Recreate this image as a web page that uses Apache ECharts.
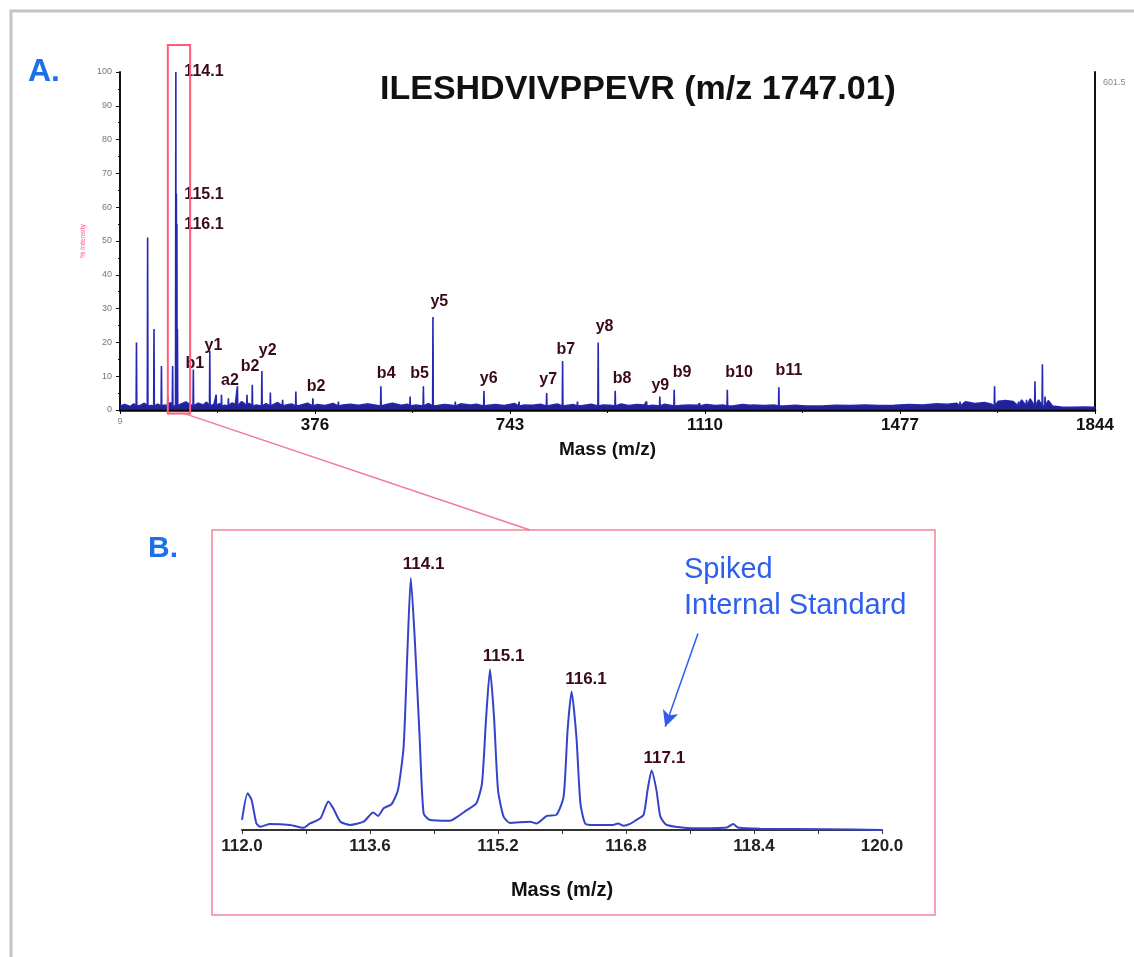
<!DOCTYPE html>
<html>
<head>
<meta charset="utf-8">
<script src="https://cdn.jsdelivr.net/npm/echarts@6/dist/echarts.min.js"></script>
<style>
html, body { margin: 0; padding: 0; background: #fff; }
#main { width: 1134px; height: 957px; }
</style>
</head>
<body>
<div id="main"></div>
<script>
// ---- panel A: MS/MS spectrum of ILESHDVIVPPEVR ----
const AXIS_START = 9 // instrument axis starts at m/z 9, ticks every 367
const peakMz  = [40, 61, 73, 87, 99, 108, 114.1, 115.1, 116.1, 117.1, 147, 178, 190, 200, 213, 230, 248, 258, 276, 292, 315, 340, 372, 420, 500, 555, 580, 598, 640, 694, 760, 812, 842, 870, 909, 941, 1000, 1025, 1052, 1100, 1152, 1200, 1249, 1300, 1590, 1655, 1700, 1715, 1731, 1745, 1750]
const peakInt = [20, 51, 24, 13, 4, 13, 100, 64, 55, 24, 12, 17.5, 4.5, 4.5, 3.5, 7, 4.5, 7.5, 11.5, 5.2, 3, 5.5, 3.5, 2.5, 7, 4, 7, 27.5, 2.5, 5.7, 2.5, 5, 14.5, 2.5, 20, 5.7, 2.5, 4, 6, 2, 6, 1.5, 6.7, 1.5, 2.5, 7, 2.5, 3, 8.5, 13.5, 4]
// noisy baseline [m/z, %]
const baselineNoise = [
  [9, 1.2], [18, 1.6], [28, 1.0], [35, 1.8], [48, 1.4], [55, 2.0], [68, 1.3], [80, 1.7], [93, 1.5], [104, 2.2],
  [111, 1.4], [124, 1.8], [133, 2.4], [141, 1.6], [156, 2.0], [166, 1.5], [172, 2.3], [186, 1.7], [196, 1.9], [206, 1.4],
  [220, 2.1], [226, 1.6], [238, 2.5], [244, 1.8], [252, 2.0], [266, 1.5], [284, 1.9], [298, 1.6], [306, 2.2], [322, 1.5],
  [332, 1.8], [348, 1.4], [362, 2.0], [380, 1.6], [395, 1.3], [410, 1.9], [428, 1.5], [442, 1.7], [458, 1.4], [474, 1.8],
  [488, 1.5], [510, 1.6], [522, 2.0], [538, 1.4], [550, 1.7], [566, 1.5], [590, 1.9], [606, 1.3], [620, 1.6], [634, 1.4],
  [650, 1.8], [668, 1.5], [680, 1.7], [702, 1.4], [716, 1.6], [732, 1.3], [752, 1.9], [770, 1.5], [786, 1.4], [800, 1.7],
  [822, 1.5], [832, 1.8], [852, 1.4], [862, 1.6], [880, 1.3], [896, 1.7], [918, 1.5], [932, 1.4], [952, 1.8], [966, 1.3],
  [982, 1.6], [996, 1.5], [1012, 1.4], [1034, 1.7], [1062, 1.3], [1080, 1.5], [1096, 1.4], [1112, 1.6], [1130, 1.3], [1144, 1.5],
  [1162, 1.2], [1180, 1.6], [1196, 1.4], [1222, 1.3], [1240, 1.5], [1258, 1.2], [1280, 1.4], [1302, 1.3], [1330, 1.2], [1356, 1.4],
  [1384, 1.3], [1410, 1.5], [1438, 1.3], [1466, 1.4], [1494, 1.6], [1520, 1.5], [1546, 1.8], [1566, 1.7], [1584, 2.0], [1600, 2.4],
  [1618, 1.9], [1636, 2.2], [1648, 1.8], [1662, 2.6], [1676, 2.8], [1690, 2.5], [1706, 3.0], [1722, 3.3], [1738, 3.0], [1756, 2.8],
  [1764, 1.2], [1780, 0.9], [1800, 0.8], [1822, 0.9], [1844, 0.8]
]
const ionNames = ['b1', 'y1', 'a2', 'b2', 'y2', 'b2', 'b4', 'b5', 'y5', 'y6', 'y7', 'b7', 'y8', 'b8', 'y9', 'b9', 'b10', 'b11']
const ionMz    = [150, 185, 216, 254, 287, 378, 510, 573, 610, 703, 815, 848, 921, 954, 1026, 1067, 1174, 1268]
const ionInt   = [13.8, 19.2, 8.7, 12.8, 17.5, 6.9, 10.7, 10.7, 32, 9.4, 8.9, 17.8, 24.7, 9.4, 7.1, 11, 11, 11.6]
const tagNamesA = ['114.1', '115.1', '116.1']
const tagMzA    = [167, 167, 167]
const tagIntA   = [100, 63.6, 55]

// ---- panel B: reporter ion region 112-120 ----
const reporterProfile = [
  [112.0, 4], [112.07, 14.6], [112.12, 11.9], [112.18, 2.6], [112.23, 1.3], [112.35, 2.4], [112.6, 2], [112.77, 0.9],
  [112.85, 2.6], [112.98, 4.6], [113.08, 11.3], [113.14, 8.6], [113.23, 3.3], [113.35, 2], [113.52, 3.3], [113.64, 6.9],
  [113.7, 5.6], [113.77, 8.6], [113.87, 10.3], [113.95, 15.9], [114.02, 33], [114.07, 72.8], [114.11, 100], [114.16, 75.5],
  [114.22, 37], [114.27, 6.6], [114.35, 4], [114.6, 3.7], [114.68, 5], [114.81, 7.9], [114.93, 10.6], [115.0, 18.5],
  [115.05, 43.7], [115.1, 63.8], [115.15, 45], [115.2, 15.9], [115.27, 5.3], [115.35, 2.8], [115.6, 3.3], [115.68, 2.6],
  [115.81, 5.6], [115.93, 6], [116.02, 13.2], [116.07, 39.7], [116.12, 55], [116.18, 37], [116.23, 10.6], [116.29, 2.6],
  [116.39, 2], [116.64, 2], [116.7, 2.6], [116.77, 1.7], [116.85, 2.4], [116.93, 4], [117.02, 6], [117.07, 15.9],
  [117.12, 23.6], [117.18, 15.9], [117.23, 5.3], [117.31, 2], [117.64, 0.7], [118.06, 1], [118.14, 2.4], [118.2, 1],
  [118.48, 0.5], [119.31, 0.3], [120.0, 0]
]
const tagNamesB = ['114.1', '115.1', '116.1', '117.1']
const tagMzB    = [114.27, 115.27, 116.3, 117.28]
const tagIntB   = [105.3, 68.9, 59.6, 28.5]

const FONT = 'Liberation Sans, Arial, sans-serif'
const MAROON = '#3a0a1a'

// stick spectrum + baseline, shifted so the axis starts at 0
function buildSpectrum() {
  const pts = baselineNoise.map(p => [p[0], p[1]])
  peakMz.forEach((mz, i) => {
    pts.push([mz - 0.6, 1.2], [mz, peakInt[i]], [mz + 0.6, 1.2])
  })
  pts.sort((a, b) => a[0] - b[0])
  return pts.map(p => [p[0] - AXIS_START, p[1]])
}

const chart = echarts.init(document.getElementById('main'), null, { renderer: 'canvas' })

const labelStyle = (size) => ({
  show: true, position: 'inside', color: MAROON, fontFamily: FONT, opacity: 1,
  fontWeight: 'bold', fontSize: size, formatter: p => p.data[2]
})

const option = {
  animation: false,
  backgroundColor: '#fff',
  title: {
    text: 'ILESHDVIVPPEVR (m/z 1747.01)', left: 380, top: 73, padding: 0,
    textStyle: { fontFamily: FONT, fontSize: 34, fontWeight: 'bold', color: '#111' }
  },
  grid: [
    { left: 120, top: 72, width: 975, height: 338 },
    { left: 242, top: 578, width: 640, height: 252 }
  ],
  xAxis: [
    {
      gridIndex: 0, type: 'value', min: 0, max: 1844 - AXIS_START, interval: 367,
      name: 'Mass (m/z)', nameLocation: 'middle', nameGap: 30,
      nameTextStyle: { fontFamily: FONT, fontSize: 19, fontWeight: 'bold', color: '#111' },
      axisLine: { lineStyle: { color: '#000', width: 2.5 } },
      axisTick: { show: true, length: 4, lineStyle: { color: '#000' } },
      minorTick: { show: true, splitNumber: 2, length: 3, lineStyle: { color: '#000' } },
      splitLine: { show: false },
      axisLabel: {
        margin: 7,
        formatter: v => v === 0 ? '{s|' + AXIS_START + '}' : '{b|' + (v + AXIS_START) + '}',
        rich: {
          s: { fontSize: 9, color: '#888', fontFamily: FONT },
          b: { fontSize: 17, fontWeight: 'bold', color: '#111', fontFamily: FONT }
        }
      }
    },
    {
      gridIndex: 1, type: 'value', min: 112, max: 120, interval: 1.6,
      name: 'Mass (m/z)', nameLocation: 'middle', nameGap: 50,
      nameTextStyle: { fontFamily: FONT, fontSize: 20, fontWeight: 'bold', color: '#111' },
      axisLine: { lineStyle: { color: '#333', width: 2 } },
      axisTick: { show: true, length: 4, lineStyle: { color: '#333' } },
      minorTick: { show: true, splitNumber: 2, length: 4, lineStyle: { color: '#333' } },
      splitLine: { show: false },
      axisLabel: {
        margin: 8, fontFamily: FONT, fontSize: 17, fontWeight: 'bold', color: '#222',
        formatter: v => v.toFixed(1)
      }
    }
  ],
  yAxis: [
    {
      gridIndex: 0, type: 'value', min: 0, max: 100, interval: 10,
      name: '% Intensity', nameLocation: 'middle', nameGap: -9, nameRotate: 90,
      nameTextStyle: { fontSize: 7, color: '#ff5a9a', fontFamily: FONT },
      axisLine: { show: true, lineStyle: { color: '#111', width: 2 } },
      axisTick: { show: true, length: 4, lineStyle: { color: '#111' } },
      minorTick: { show: true, splitNumber: 2, length: 2, lineStyle: { color: '#111' } },
      splitLine: { show: false },
      axisLabel: { fontSize: 9, color: '#777', margin: 8, fontFamily: FONT }
    },
    {
      gridIndex: 0, type: 'value', min: 0, max: 100, position: 'right',
      axisLine: { show: true, lineStyle: { color: '#111', width: 2 } },
      axisTick: { show: false }, axisLabel: { show: false }, splitLine: { show: false }
    },
    { gridIndex: 1, type: 'value', min: 0, max: 100, show: false }
  ],
  series: [
    {
      name: 'spectrum', type: 'line', xAxisIndex: 0, yAxisIndex: 0,
      data: buildSpectrum(), showSymbol: false, sampling: 'none',
      lineStyle: { color: '#2626b4', width: 1.6 },
      areaStyle: { color: '#16168a', opacity: 0.95 }, z: 3
    },
    {
      name: 'ions', type: 'scatter', xAxisIndex: 0, yAxisIndex: 0, clip: false,
      symbolSize: 0, silent: true, itemStyle: { opacity: 1 }, z: 5,
      data: ionNames.map((n, i) => [ionMz[i] - AXIS_START, ionInt[i], n]),
      label: labelStyle(16)
    },
    {
      name: 'tagsA', type: 'scatter', xAxisIndex: 0, yAxisIndex: 0, clip: false,
      symbolSize: 0, silent: true, itemStyle: { opacity: 1 }, z: 5,
      data: tagNamesA.map((n, i) => [tagMzA[i] - AXIS_START, tagIntA[i], n]),
      label: labelStyle(16)
    },
    {
      name: 'reporter', type: 'line', xAxisIndex: 1, yAxisIndex: 2,
      data: reporterProfile, showSymbol: false, smooth: 0.2,
      lineStyle: { color: '#3444c8', width: 2 },
      markLine: {
        silent: true, symbol: ['none', 'arrow'], symbolSize: [12, 16],
        label: { show: false },
        lineStyle: { color: '#2f5bf0', width: 1.5, type: 'solid' },
        data: [[{ coord: [117.7, 78] }, { coord: [117.29, 41] }]]
      }
    },
    {
      name: 'tagsB', type: 'scatter', xAxisIndex: 1, yAxisIndex: 2, clip: false,
      symbolSize: 0, silent: true, itemStyle: { opacity: 1 }, z: 5,
      data: tagNamesB.map((n, i) => [tagMzB[i], tagIntB[i], n]),
      label: labelStyle(17)
    }
  ]
}

chart.setOption(option)

// zoom box on panel A follows the m/z axis
const boxTL = chart.convertToPixel({ gridIndex: 0 }, [99 - AXIS_START, 108])
const boxBR = chart.convertToPixel({ gridIndex: 0 }, [141 - AXIS_START, -1])

chart.setOption({
  graphic: [
    { type: 'rect', shape: { x: 11, y: 11, width: 1140, height: 960 }, style: { fill: 'none', stroke: '#c4c4c4', lineWidth: 3 }, silent: true },
    { type: 'text', x: 28, y: 56, style: { text: 'A.', font: 'bold 32px ' + FONT, fill: '#1f6fe8' } },
    { type: 'text', x: 148, y: 534, style: { text: 'B.', font: 'bold 30px ' + FONT, fill: '#1f6fe8' } },
    { type: 'rect', shape: { x: boxTL[0], y: boxTL[1], width: boxBR[0] - boxTL[0], height: boxBR[1] - boxTL[1] },
      style: { fill: 'none', stroke: '#ff5c7c', lineWidth: 2 }, z: 10 },
    { type: 'line', shape: { x1: boxTL[0] + 16, y1: boxBR[1], x2: 530, y2: 530 }, style: { stroke: '#f27a92', lineWidth: 1.5 }, z: 10 },
    { type: 'rect', shape: { x: 212, y: 530, width: 723, height: 385 }, style: { fill: 'none', stroke: '#f2849a', lineWidth: 1.5 } },
    { type: 'text', x: 1103, y: 78, style: { text: '601.5', font: '9px ' + FONT, fill: '#888' } },
    { type: 'text', x: 684, y: 555, style: { text: 'Spiked', font: '29px ' + FONT, fill: '#2e5ef0' } },
    { type: 'text', x: 684, y: 591, style: { text: 'Internal Standard', font: '29px ' + FONT, fill: '#2e5ef0' } }
  ]
})
</script>
</body>
</html>
